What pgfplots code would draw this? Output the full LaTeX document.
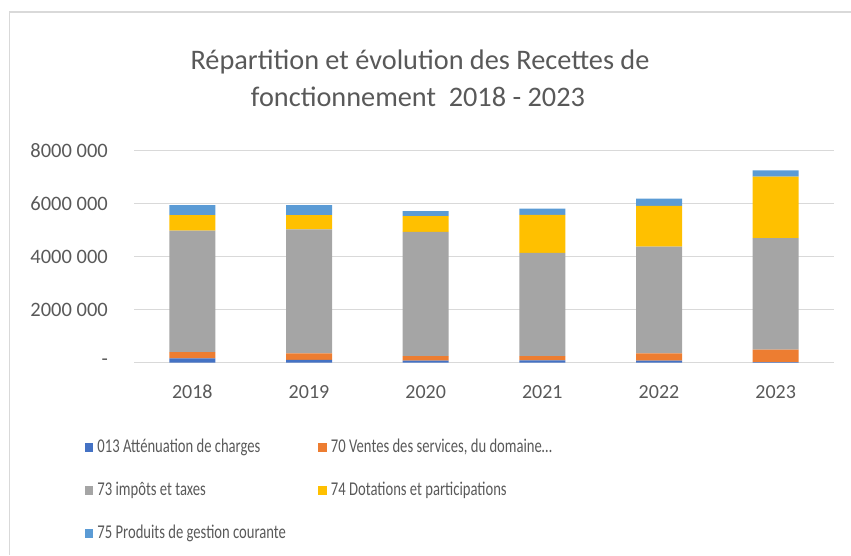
\documentclass[border=0pt]{standalone}
\usepackage{pgfplots}
\pgfplotsset{compat=1.18}
\usepackage{fontspec}
\setmainfont{Carlito}
\newfontfamily\legfont[FakeStretch=0.75]{Carlito}
\definecolor{txt}{HTML}{595959}
\definecolor{gridc}{HTML}{D9D9D9}
\definecolor{cA}{HTML}{4472C4}
\definecolor{cB}{HTML}{ED7D31}
\definecolor{cC}{HTML}{A5A5A5}
\definecolor{cD}{HTML}{FFC000}
\definecolor{cE}{HTML}{5B9BD5}
\begin{document}
\begin{tikzpicture}
\path[use as bounding box] (0pt,0pt) rectangle (851pt,555pt);
\draw[color=gridc, line width=1.5pt] (9.5pt,0pt) -- (9.5pt,543pt) -- (851pt,543pt);
\node[font=\fontsize{28.3}{34}\selectfont, text=txt, anchor=base, inner sep=0pt] at (420pt,485pt) {Répartition et évolution des Recettes de};
\node[font=\fontsize{28.3}{34}\selectfont, text=txt, anchor=base, inner sep=0pt] at (418pt,448pt) {fonctionnement\ \ 2018 - 2023};
\begin{axis}[
  at={(134pt,192.3pt)}, anchor=south west,
  scale only axis, width=700pt, height=212pt,
  ybar stacked, bar width=46pt,
  xmin=-0.5, xmax=5.5, ymin=0, ymax=8000000,
  xtick={0,1,2,3,4,5},
  xticklabels={2018,2019,2020,2021,2022,2023},
  ytick={0,2000000,4000000,6000000,8000000},
  yticklabels={{-\hspace{8pt}},{2000 000},{4000 000},{6000 000},{8000 000}},
  scaled y ticks=false,
  axis line style={draw=none},
  major tick length=0pt,
  tick style={draw=none},
  ymajorgrids, grid style={color=gridc, line width=1.4pt},
  yticklabel style={anchor=east, inner sep=0pt, xshift=-26pt, font=\fontsize{20.5}{22}\selectfont, text=txt},
  xticklabel style={anchor=north, inner sep=0pt, yshift=-22.3pt, font=\fontsize{20}{22}\selectfont, text=txt},
  legend columns=2,
  legend cell align=left,
  legend style={at={(-0.07,-0.36)}, anchor=north west, draw=none, fill=none, inner sep=0pt, outer sep=0pt,
    column sep=0pt, row sep=26pt, font=\legfont\fontsize{19.5}{20}\selectfont, text=txt,
    nodes={inner sep=0pt, text height=13pt, text depth=4pt}},
  legend image code/.code={\fill[#1, draw=none] (0pt,-4.25pt) rectangle (8.5pt,4.25pt);},
]
\addplot[fill=cA, draw=none] coordinates {(0,160000) (1,110000) (2,75000) (3,90000) (4,75000) (5,20000)};
\addplot[fill=cB, draw=none] coordinates {(0,240000) (1,240000) (2,175000) (3,160000) (4,275000) (5,470000)};
\addplot[fill=cC, draw=none] coordinates {(0,4580000) (1,4680000) (2,4690000) (3,3890000) (4,4030000) (5,4210000)};
\addplot[fill=cD, draw=none] coordinates {(0,590000) (1,540000) (2,590000) (3,1440000) (4,1540000) (5,2320000)};
\addplot[fill=cE, draw=none] coordinates {(0,380000) (1,380000) (2,190000) (3,230000) (4,270000) (5,240000)};
\addlegendentry{\makebox[225pt][l]{\hspace{4pt}013 Atténuation de charges}}
\addlegendentry{\makebox[225pt][l]{\hspace{4pt}70 Ventes des services, du domaine…}}
\addlegendentry{\makebox[225pt][l]{\hspace{4pt}73 impôts et taxes}}
\addlegendentry{\makebox[225pt][l]{\hspace{4pt}74 Dotations et participations}}
\addlegendentry{\makebox[225pt][l]{\hspace{4pt}75 Produits de gestion courante}}
\end{axis}
\end{tikzpicture}
\end{document}
